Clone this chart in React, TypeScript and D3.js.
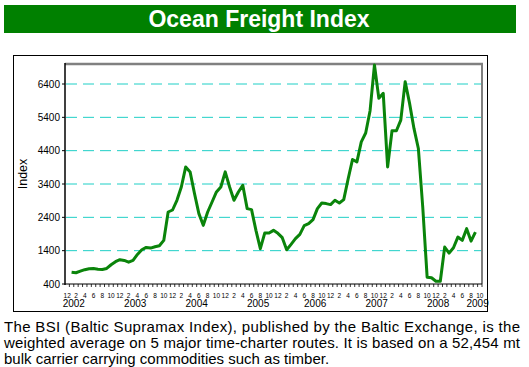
import React from 'react';
import * as d3 from 'd3';

// chart text
const title = 'Ocean Freight Index';
const yAxisTitle = 'Index';
const caption = [
  'The BSI (Baltic Supramax Index), published by the Baltic Exchange, is the',
  'weighted average on 5 major time-charter routes. It is based on a 52,454 mt',
  'bulk carrier carrying commodities such as timber.',
];

// category axis runs Dec 2001 .. Oct 2009, one slot per month
const firstMonth = new Date(2001, 11, 1);
const lastMonth = new Date(2009, 9, 1);
const seriesStart = new Date(2002, 0, 1);

// monthly index values, Jan 2002 onwards
const bsi2002 = [755, 737, 785, 830, 857, 866, 845, 836, 866, 977, 1068, 1128];
const bsi2003 = [1107, 1056, 1107, 1287, 1428, 1498, 1477, 1519, 1549, 1708, 2560, 2620];
const bsi2004 = [2911, 3311, 3913, 3763, 3113, 2511, 2160, 2560, 2860, 3161, 3311, 3763];
const bsi2005 = [3311, 2911, 3161, 3362, 2661, 2631, 2009, 1459, 1928, 1928, 2009, 1920];
const bsi2006 = [1790, 1428, 1590, 1760, 1889, 2150, 2210, 2331, 2661, 2830, 2812, 2782];
const bsi2007 = [2911, 2830, 2932, 3550, 4135, 4063, 4665, 4930, 5600, 6972, 5970, 6120];
const bsi2008 = [3913, 4996, 4996, 5317, 6469, 5819, 5067, 4466, 2710, 605, 586, 484];
const bsi2009 = [484, 1507, 1326, 1488, 1808, 1709, 2060, 1687, 1958];
const bsi = [...bsi2002, ...bsi2003, ...bsi2004, ...bsi2005, ...bsi2006, ...bsi2007, ...bsi2008, ...bsi2009];

const yTicks = [400, 1400, 2400, 3400, 4400, 5400, 6400];
const yearLabels = ['2002', '2003', '2004', '2005', '2006', '2007', '2008', '2009'];
// month slot after which each year label sits (as placed in the original)
const yearLabelAfter = ['2002-01', '2003-03', '2004-05', '2005-07', '2006-08', '2007-10', '2008-12', '2009-09'];

const fmtKey = d3.timeFormat('%Y-%m');
const font = "'Liberation Sans', Arial, sans-serif";

export default function App() {
  const width = 529;
  const height = 367;
  const plot = { left: 65, right: 482, top: 64, bottom: 284 };

  const months = d3.timeMonth.range(firstMonth, d3.timeMonth.offset(lastMonth, 1));
  const keys = months.map(fmtKey);

  const x = d3.scaleBand<string>().domain(keys).range([plot.left, plot.right]);
  const y = d3.scaleLinear().domain([400, 7000]).range([plot.bottom, plot.top]);

  const points = bsi.map((v, i) => ({ key: fmtKey(d3.timeMonth.offset(seriesStart, i)), v }));
  const line = d3
    .line<{ key: string; v: number }>()
    .x(d => (x(d.key) ?? 0) + x.bandwidth() / 2)
    .y(d => y(d.v));

  return (
    <svg width={width} height={height} style={{ position: 'absolute', left: 0, top: 0 }} fontFamily={font}>
      {/* title banner */}
      <rect x={4} y={5} width={512} height={28} fill="#008000" />
      <text x={259} y={27} textAnchor="middle" fill="#fff" fontWeight="bold" fontSize={23}>
        {title}
      </text>

      {/* chart frame */}
      <rect x={13.5} y={55.5} width={474} height={256} fill="#fff" stroke="#000" strokeWidth={1} />

      {/* gridlines */}
      {yTicks.slice(1).map(t => (
        <line key={t} x1={plot.left + 1} x2={plot.right - 1} y1={y(t)} y2={y(t)}
          stroke="#1fcfc6" strokeWidth={1} strokeDasharray="11,6" />
      ))}

      {/* plot border */}
      <line x1={plot.left} x2={plot.right + 1} y1={plot.top} y2={plot.top} stroke="#808080" strokeWidth={2.5} />
      <line x1={plot.right} x2={plot.right} y1={plot.top} y2={plot.bottom} stroke="#808080" strokeWidth={2} />

      {/* series */}
      <path d={line(points) ?? ''} fill="none" stroke="#0a840a" strokeWidth={3} strokeLinejoin="round" />

      {/* y axis */}
      <line x1={plot.left} x2={plot.left} y1={plot.top - 1} y2={plot.bottom + 1} stroke="#000" strokeWidth={1.5} />
      {yTicks.map(t => (
        <g key={t}>
          <line x1={plot.left - 3} x2={plot.left} y1={y(t)} y2={y(t)} stroke="#000" />
          <text x={plot.left - 5} y={y(t)} dy="0.35em" textAnchor="end" fontSize={10}>
            {t}
          </text>
        </g>
      ))}
      <text transform={`translate(27,174) rotate(-90)`} textAnchor="middle" fontSize={12.5}>
        {yAxisTitle}
      </text>

      {/* x axis */}
      <line x1={plot.left} x2={plot.right} y1={plot.bottom} y2={plot.bottom} stroke="#000" strokeWidth={1.2} />
      {keys.map(k => (
        <line key={k} x1={(x(k) ?? 0) + x.bandwidth()} x2={(x(k) ?? 0) + x.bandwidth()}
          y1={plot.bottom} y2={plot.bottom + 3} stroke="#000" strokeWidth={0.8} />
      ))}
      {months.map((m, i) =>
        i % 2 === 0 ? (
          <text key={i} x={(x(keys[i]) ?? 0) + x.bandwidth() / 2} y={297.5} textAnchor="middle" fontSize={6.5}>
            {m.getMonth() + 1}
          </text>
        ) : null
      )}
      {yearLabels.map((label, i) => (
        <text key={label} x={(x(yearLabelAfter[i]) ?? 0) + x.bandwidth()} y={306.5} textAnchor="middle" fontSize={10}>
          {label}
        </text>
      ))}

      {/* caption */}
      {caption.map((t, i) => (
        <text key={i} x={4} y={331.5 + i * 16} fontSize={15}
          textLength={i < caption.length - 1 ? 516 : undefined}
          lengthAdjust={i < caption.length - 1 ? 'spacing' : undefined}>
          {t}
        </text>
      ))}
    </svg>
  );
}
